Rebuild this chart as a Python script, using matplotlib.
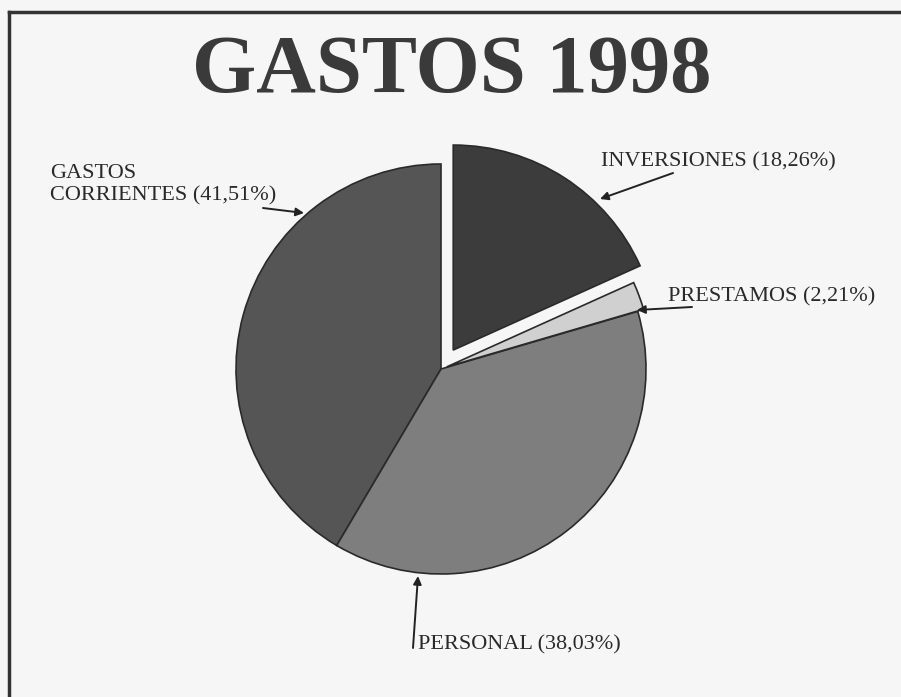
import matplotlib
matplotlib.use("Agg")
import matplotlib.pyplot as plt

# data
labels = ["GASTOS", "CORRIENTES (41,51%)", "PERSONAL (38,03%)",
          "PRESTAMOS (2,21%)", "INVERSIONES (18,26%)"]
shares = [41.51, 38.03, 2.21, 18.26]
colors = ["#555555", "#7e7e7e", "#d0d0d0", "#3c3c3c"]
explode = [0.0, 0.0, 0.03, 0.11]

W, H = 901, 697
R = 205
plt.rcParams['font.family'] = ['Liberation Serif', 'DejaVu Serif']

fig = plt.figure(figsize=(W / 100, H / 100), dpi=100)
fig.patch.set_facecolor("#f6f6f6")
ax = fig.add_axes([0, 0, 1, 1])


def py(y):
    # image row -> data y
    return H - y


# explode in matplotlib is absolute, scale it by the radius
wedges, _ = ax.pie(shares, colors=colors, explode=[e * R for e in explode],
                   startangle=90, counterclock=True,
                   center=(441, py(369)), radius=R,
                   wedgeprops=dict(edgecolor="#2a2a2a", linewidth=1.2),
                   frame=True)
ax.set_xlim(0, W)
ax.set_ylim(0, H)
ax.set_aspect("equal")
ax.axis("off")

# frame (left and top lines)
ax.plot([9, 9], [py(12), 0], color="#333333", lw=2.5)
ax.plot([9, W], [py(12), py(12)], color="#333333", lw=2.5)

ax.text(452, py(72), "GASTOS 1998", ha="center", va="center",
        fontsize=59.5, fontweight="bold", color="#3a3a3a")

arrow = dict(arrowstyle="-|>", color="#222222", lw=1.4,
             mutation_scale=12, shrinkA=0, shrinkB=0)
txt = dict(fontsize=16, color="#2a2a2a", va="center", ha="left")

ax.annotate("", xy=(304, py(213)), xytext=(263, py(208)), arrowprops=arrow)
ax.text(50, py(173), labels[0], **txt)
ax.text(50, py(196), labels[1], **txt)

ax.annotate("", xy=(600, py(199)), xytext=(673, py(173)), arrowprops=arrow)
ax.text(601, py(162), labels[4], **txt)

ax.annotate("", xy=(637, py(310)), xytext=(692, py(307)), arrowprops=arrow)
ax.text(668, py(297), labels[3], **txt)

ax.annotate("", xy=(418, py(576)), xytext=(413, py(648)), arrowprops=arrow)
ax.text(418, py(645), labels[2], **txt)

fig.savefig("out.png", dpi=100, facecolor=fig.get_facecolor())
